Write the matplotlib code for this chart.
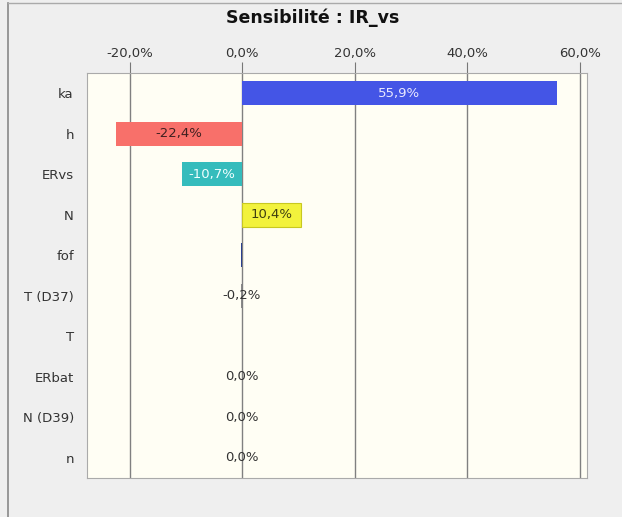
import numpy as np
import matplotlib.pyplot as plt
from matplotlib.lines import Line2D

# sensibilité de IR_vs à chaque paramètre (en %)
params = ['ka', 'h', 'ERvs', 'N', 'fof', 'T (D37)', 'T', 'ERbat', 'N (D39)', 'n']
values = [55.9, -22.4, -10.7, 10.4, -0.15, -0.2, -0.05, 0.0, 0.0, 0.0]
labels = ['55,9%', '-22,4%', '-10,7%', '10,4%', '', '-0,2%', '', '0,0%', '0,0%', '0,0%']
colors = ['#4455e6', '#f8706a', '#35bcbc', '#f2f23c', '#2a3f8f',
          '#888888', '#f09060', '#40c040', '#4060c0', '#888888']
label_colors = ['#e8e8ff', '#402020', '#f0ffff', '#404010', '#333333',
                '#333333', '#333333', '#333333', '#333333', '#333333']

fig = plt.figure(figsize=(6.22, 5.17), dpi=100)
fig.patch.set_facecolor('#efefef')
fig.add_artist(Line2D([0.013, 0.013], [0, 0.995], color='#888888', lw=1.2))
fig.add_artist(Line2D([0.013, 1], [0.995, 0.995], color='#aaaaaa', lw=1))

ax = fig.add_axes([87/622, 1-478/517, 500/622, 405/517])
ax.set_facecolor('#fffef4')

y = np.arange(len(params))
ax.barh(y, values, height=0.6, color=colors, zorder=3)
# contour du bar jaune
ax.barh(y[3], values[3], height=0.6, color='none', edgecolor='#c8c820', lw=0.8, zorder=3)

for i in range(len(params)):
    if labels[i]:
        ax.text(values[i] / 2, y[i], labels[i], ha='center', va='center',
                fontsize=9.5, color=label_colors[i], zorder=4)

ax.set_xlim(-27.6, 61.3)
ax.set_ylim(len(params) - 0.5, -0.5)
ticks = [-20, 0, 20, 40, 60]
ax.set_xticks(ticks)
ax.set_xticklabels(['-20,0%', '0,0%', '20,0%', '40,0%', '60,0%'], fontsize=9.5, color='#333333')
ax.xaxis.tick_top()
ax.tick_params(axis='x', direction='out', length=8, color='#777777', pad=1)
ax.set_yticks(y)
ax.set_yticklabels(params, fontsize=9.5, color='#333333')
ax.tick_params(axis='y', length=0, pad=9.5)
for t in ticks:
    ax.axvline(t, color='#808080', lw=1, zorder=2)
for s in ax.spines.values():
    s.set_color('#aaaaaa')

fig.text(313/622, 1-18/517, 'Sensibilité : IR_vs', ha='center', va='center',
         fontsize=12.5, fontweight='bold', color='#111111')

plt.savefig('out.png', dpi=100, facecolor=fig.get_facecolor())
